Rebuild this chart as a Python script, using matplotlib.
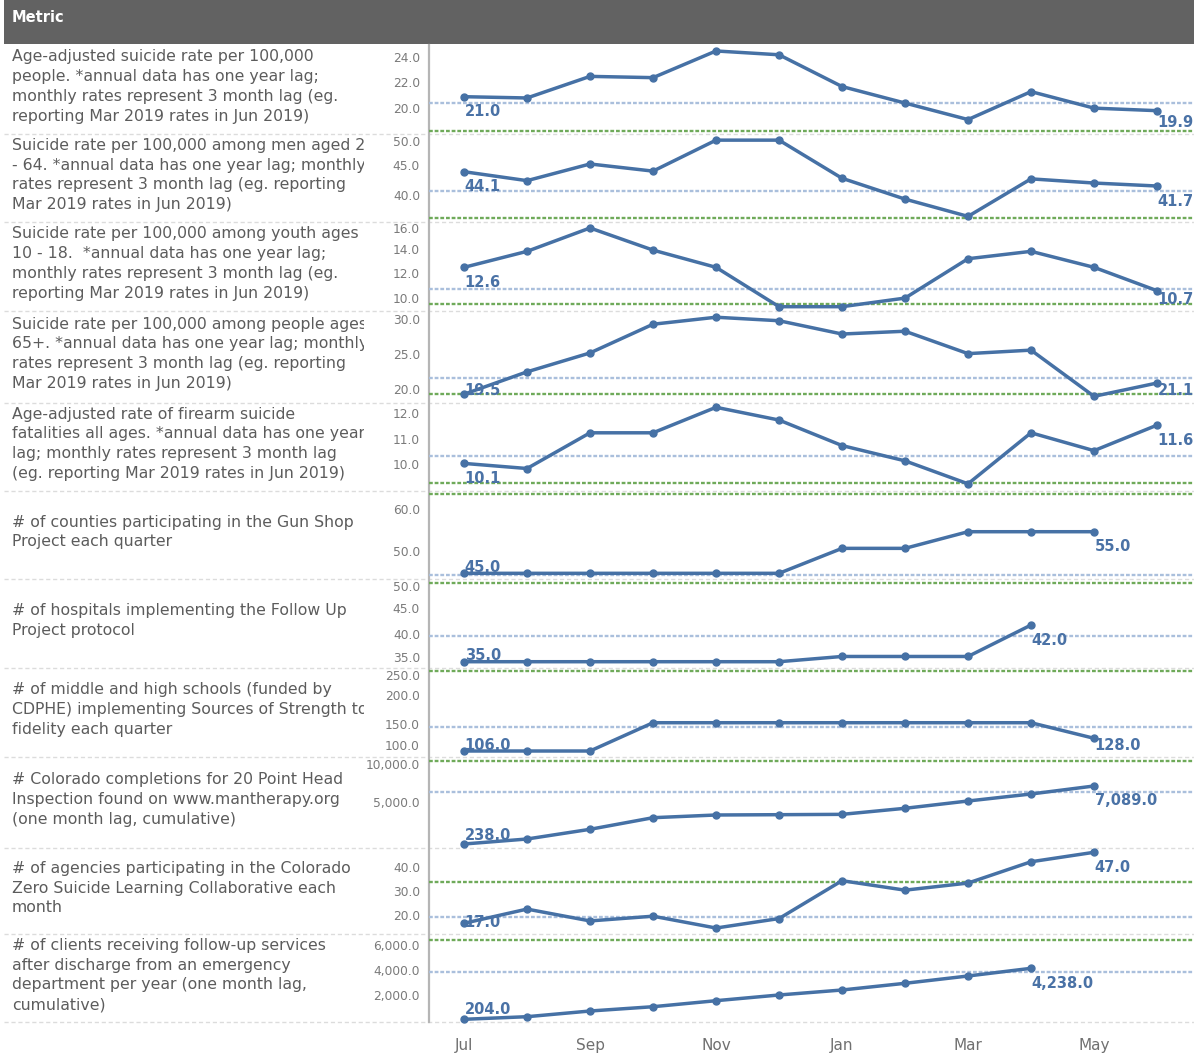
import matplotlib
matplotlib.use("Agg")
import matplotlib.pyplot as plt
from matplotlib.patches import Rectangle
from matplotlib.transforms import Bbox, TransformedBbox
import numpy as np

W, H = 1194, 1057
DPI = 100

# ---------------- data ----------------
months = ['Jul', 'Aug', 'Sep', 'Oct', 'Nov', 'Dec', 'Jan', 'Feb', 'Mar', 'Apr', 'May', 'Jun']
shown_months = ['Jul', 'Sep', 'Nov', 'Jan', 'Mar', 'May']

metric_labels = [
    "Age-adjusted suicide rate per 100,000\npeople. *annual data has one year lag;\nmonthly rates represent 3 month lag (eg.\nreporting Mar 2019 rates in Jun 2019)",
    "Suicide rate per 100,000 among men aged 25\n- 64. *annual data has one year lag; monthly\nrates represent 3 month lag (eg. reporting\nMar 2019 rates in Jun 2019)",
    "Suicide rate per 100,000 among youth ages\n10 - 18.  *annual data has one year lag;\nmonthly rates represent 3 month lag (eg.\nreporting Mar 2019 rates in Jun 2019)",
    "Suicide rate per 100,000 among people ages\n65+. *annual data has one year lag; monthly\nrates represent 3 month lag (eg. reporting\nMar 2019 rates in Jun 2019)",
    "Age-adjusted rate of firearm suicide\nfatalities all ages. *annual data has one year\nlag; monthly rates represent 3 month lag\n(eg. reporting Mar 2019 rates in Jun 2019)",
    "# of counties participating in the Gun Shop\nProject each quarter",
    "# of hospitals implementing the Follow Up\nProject protocol",
    "# of middle and high schools (funded by\nCDPHE) implementing Sources of Strength to\nfidelity each quarter",
    "# Colorado completions for 20 Point Head\nInspection found on www.mantherapy.org\n(one month lag, cumulative)",
    "# of agencies participating in the Colorado\nZero Suicide Learning Collaborative each\nmonth",
    "# of clients receiving follow-up services\nafter discharge from an emergency\ndepartment per year (one month lag,\ncumulative)",
]

suicide_rate = [21.0, 20.9, 22.6, 22.5, 24.6, 24.3, 21.8, 20.5, 19.2, 21.4, 20.1, 19.9]
men_25_64 = [44.1, 42.6, 45.4, 44.2, 49.4, 49.4, 43.0, 39.5, 36.6, 42.9, 42.2, 41.7]
youth_10_18 = [12.6, 13.9, 15.8, 14.0, 12.6, 9.4, 9.4, 10.1, 13.3, 13.9, 12.6, 10.7]
people_65 = [19.5, 22.7, 25.4, 29.5, 30.5, 30.0, 28.1, 28.5, 25.3, 25.8, 19.2, 21.1]
firearm = [10.1, 9.9, 11.3, 11.3, 12.3, 11.8, 10.8, 10.2, 9.3, 11.3, 10.6, 11.6]
counties = [45, 45, 45, 45, 45, 45, 51, 51, 55, 55, 55]
hospitals = [35, 35, 35, 35, 35, 35, 36, 36, 36, 42]
schools = [106, 106, 106, 155, 155, 155, 155, 155, 155, 155, 128]
mantherapy = [238, 828, 1974, 3345, 3664, 3700, 3740, 4455, 5317, 6144, 7089]
zero_suicide = [17, 23, 18, 20, 15, 19, 35, 31, 34, 43, 47]
followup = [204, 410, 860, 1200, 1676, 2127, 2522, 3052, 3630, 4238]

series = [suicide_rate, men_25_64, youth_10_18, people_65, firearm, counties,
          hospitals, schools, mantherapy, zero_suicide, followup]

baselines = [20.5, 40.9, 10.8, 21.8, 10.4, 44.6, 40.0, 147, 6345, 19.5, 3922]
targets = [18.3, 36.3, 9.6, 19.5, 9.35, 64, 50, 244, 10000, 34.6, 6500]

yticks = [[20, 22, 24], [40, 45, 50], [10, 12, 14, 16], [20, 25, 30], [10, 11, 12],
          [50, 60], [35, 40, 45, 50], [100, 150, 200, 250], [5000, 10000],
          [20, 30, 40], [2000, 4000, 6000]]

# ---------------- layout ----------------
ylims = [(18.04, 25.07), (35.71, 50.38), (9.05, 16.31), (18.29, 31.39), (9.03, 12.48),
         (43.56, 64.86), (33.8, 50.73), (95.6, 249.8), (-199, 10514), (12.35, 48.94),
         (14, 6929)]
band_edges = [45, 134.3, 221.7, 311, 402.7, 490.7, 579.3, 668, 757, 847.7, 934.3, 1021.7]
plot_x0, plot_x1 = 429, 1194
xlim = (-0.556, 11.587)

line_col = '#4671a5'
label_col = '#4a72a6'
tick_col = '#7a7a7a'
text_col = '#5c5c5c'

fig = plt.figure(figsize=(W / DPI, H / DPI), dpi=DPI)
fig.patch.set_facecolor('white')

bg = fig.add_axes([0, 0, 1, 1])
bg.set_xlim(0, W)
bg.set_ylim(H, 0)
bg.axis('off')

# header
bg.add_patch(Rectangle((4, 0), W - 4, 44, facecolor='#626262', edgecolor='none'))
bg.text(12, 18, 'Metric', color='white', fontsize=10.5, fontweight='bold', va='center', ha='left')

# separators
for y in band_edges[1:]:
    bg.plot([4, W], [y, y], color='#dcdcdc', lw=1.0, ls=(0, (3, 2)))
# vertical axis line
bg.plot([plot_x0, plot_x0], [45, band_edges[-1]], color='#b5b5b5', lw=1.6)

def fmt(v):
    return f"{v:,.1f}"

pw = plot_x1 - plot_x0
for i, vals in enumerate(series):
    top, bot = band_edges[i], band_edges[i + 1]
    h = bot - top
    # metric label (clipped to the label column)
    t = bg.text(12, (top + bot) / 2 - 3, metric_labels[i], color=text_col, fontsize=11.3,
                va='center', ha='left', linespacing=1.4)
    t.set_clip_path(None)
    t.set_clip_box(TransformedBbox(Bbox([[4, top], [364, bot]]), bg.transData))
    t.set_clip_on(True)

    ax = fig.add_axes([plot_x0 / W, 1 - bot / H, pw / W, h / H])
    ax.patch.set_alpha(0)
    for s in ax.spines.values():
        s.set_visible(False)
    lo, hi = ylims[i]
    ax.set_xlim(*xlim)
    ax.set_ylim(lo, hi)
    ax.set_yticks([])
    ax.set_xticks([])
    rng = hi - lo

    ax.axhline(baselines[i], color='#aabfdc', lw=1.7, ls=(0, (1.6, 0.8)), zorder=1)
    ax.axhline(targets[i], color='#6faa5a', lw=1.7, ls=(0, (1.6, 0.8)), zorder=1)

    x = np.arange(len(vals))
    ax.plot(x, vals, '-o', color=line_col, lw=2.5, ms=5, clip_on=False, zorder=5)

    # value labels for first and last points
    for idx in (0, len(vals) - 1):
        v = vals[idx]
        yl = max(v - 15 / h * rng, lo + 12 / h * rng)
        ax.text(x[idx] + 0.01, yl, fmt(v), color=label_col, fontsize=10.5, fontweight='bold',
                ha='left', va='center', zorder=6, clip_on=False)

    # y tick labels (kept inside band)
    for tv in yticks[i]:
        yv = min(max(tv, lo + 10 / h * rng), hi - 8 / h * rng)
        ax.text(-9 / pw, yv, fmt(tv), transform=ax.get_yaxis_transform(), color=tick_col,
                fontsize=8.8, ha='right', va='center', clip_on=False)

    if i == len(series) - 1:
        pos = [months.index(m) for m in shown_months]
        ax.set_xticks(pos)
        ax.set_xticklabels(shown_months, color='#707070', fontsize=11)
        ax.tick_params(axis='x', length=0, pad=12)

fig.savefig('out.png', dpi=DPI, facecolor='white')
